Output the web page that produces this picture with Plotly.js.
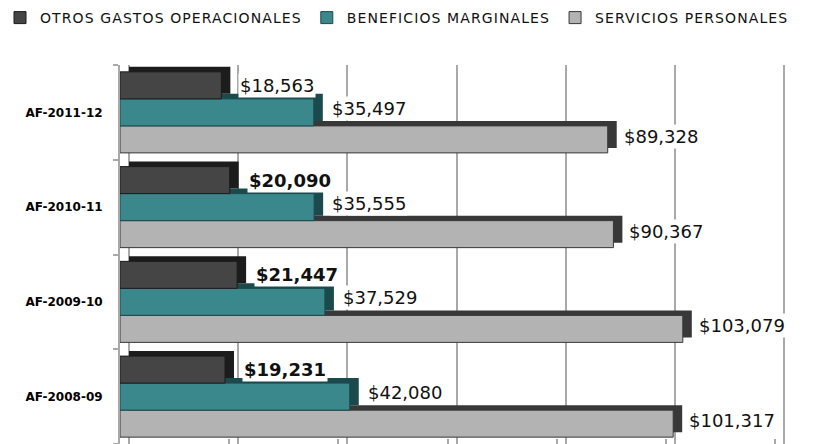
<!DOCTYPE html>
<html>
<head>
<meta charset="utf-8">
<script src="https://cdn.plot.ly/plotly-3.0.1.min.js"></script>
<style>
html,body{margin:0;padding:0;background:#fff;}
#chart{width:814px;height:444px;}
.legendtext{letter-spacing:1.1px;}
</style>
</head>
<body>
<div id="chart"></div>
<script>
// ---- data (categories bottom to top as drawn) ----
const categories = ["AF-2008-09", "AF-2009-10", "AF-2010-11", "AF-2011-12"];
const seriesNames = ["OTROS GASTOS OPERACIONALES", "BENEFICIOS MARGINALES", "SERVICIOS PERSONALES"];
const otrosGastos = [19231, 21447, 20090, 18563];
const beneficiosMarginales = [42080, 37529, 35555, 35497];
const serviciosPersonales = [101317, 103079, 90367, 89328];
const xTicks = [0, 20000, 40000, 60000, 80000, 100000, 120000];

// ---- styles ----
const values = [otrosGastos, beneficiosMarginales, serviciosPersonales];
const faceColors = ["#454545", "#3a878c", "#b3b3b3"];
const depthColors = ["#1c1c1c", "#1b4a4d", "#383838"];
const labelYShift = [27, 4, -24];
const labelXShift = [17, 16, 14];
const boldLabels = [[true, true, true, false], [false, false, false, false], [false, false, false, false]];

const marginL = 120, marginR = 22, marginT = 65, marginB = 0;
const plotW = 814 - marginL - marginR;
const plotH = 444 - marginT - marginB;
const pxPerUnit = 0.00546;         // front-face scale
const xMax = plotW / pxPerUnit;
const depthX = 9 / pxPerUnit;      // 3D depth offset (px -> units)
const yRange = [-0.5, 3.5];
const pxPerCat = plotH / (yRange[1] - yRange[0]);
const depthY = 5 / pxPerCat;

const fmt = v => "$" + v.toLocaleString("en-US");

const traces = [];
// depth (top + side faces) drawn behind, on the "back wall" axes
for (let i = 2; i >= 0; i--) {
  traces.push({
    type: "bar", orientation: "h", xaxis: "x", yaxis: "y",
    y: categories, x: values[i],
    marker: {color: depthColors[i], line: {width: 0}},
    showlegend: false, hoverinfo: "skip"
  });
}
// front faces
for (let i = 2; i >= 0; i--) {
  traces.push({
    type: "bar", orientation: "h", xaxis: "x2", yaxis: "y2",
    name: seriesNames[i],
    y: categories, x: values[i],
    marker: {color: faceColors[i], line: {color: depthColors[i], width: 1}},
    hoverinfo: "skip"
  });
}

const annotations = [];
for (let i = 0; i < 3; i++) {
  values[i].forEach((v, j) => {
    annotations.push({
      xref: "x2", yref: "y2", x: v, y: categories[j],
      text: boldLabels[i][j] ? "<b>" + fmt(v) + "</b>" : fmt(v),
      showarrow: false, xanchor: "left", yanchor: "middle",
      xshift: labelXShift[i], yshift: labelYShift[i],
      bgcolor: "#ffffff", borderpad: 1,
      font: {family: "DejaVu Sans", size: 18, color: "#111111"}
    });
  });
}

const layout = {
  width: 814, height: 444,
  margin: {l: marginL, r: marginR, t: marginT, b: marginB},
  paper_bgcolor: "#ffffff", plot_bgcolor: "rgba(0,0,0,0)",
  barmode: "group", bargap: 0.145, bargroupgap: 0,
  showlegend: true,
  legend: {
    orientation: "h", traceorder: "reversed",
    xref: "paper", yref: "paper",
    x: -marginL / plotW, xanchor: "left",
    y: 1 + (marginT - 2) / plotH, yanchor: "top",
    font: {family: "DejaVu Sans", size: 14, color: "#111111"},
    itemwidth: 30, tracegroupgap: 0, bgcolor: "rgba(0,0,0,0)"
  },
  xaxis: {
    range: [-depthX, xMax - depthX], tickvals: xTicks,
    showticklabels: false, showgrid: true, gridcolor: "#a9a9a9", gridwidth: 2,
    zeroline: false, showline: false, ticks: "", fixedrange: true, anchor: "y"
  },
  yaxis: {
    type: "category", categoryorder: "array", categoryarray: categories,
    range: [yRange[0] - depthY, yRange[1] - depthY],
    showticklabels: false, showgrid: false, showline: false, zeroline: false,
    ticks: "", fixedrange: true, anchor: "x"
  },
  xaxis2: {
    overlaying: "x", anchor: "y2", side: "bottom",
    range: [0, xMax], tickvals: xTicks,
    showticklabels: false, showgrid: false, zeroline: false, showline: false,
    ticks: "inside", ticklen: 5, tickwidth: 2, tickcolor: "#a9a9a9", fixedrange: true
  },
  yaxis2: {
    overlaying: "y", anchor: "x2", side: "left",
    type: "category", categoryorder: "array", categoryarray: categories,
    range: yRange,
    tickfont: {family: "DejaVu Sans", size: 12, color: "#000000", weight: "bold"},
    ticks: "outside", tickson: "boundaries", ticklen: 5, tickwidth: 2, tickcolor: "#a9a9a9",
    ticklabelstandoff: 13,
    showline: true, linecolor: "#a9a9a9", linewidth: 2,
    showgrid: false, zeroline: false, fixedrange: true
  },
  annotations: annotations
};

Plotly.newPlot("chart", traces, layout, {displayModeBar: false, staticPlot: true});
</script>
</body>
</html>
